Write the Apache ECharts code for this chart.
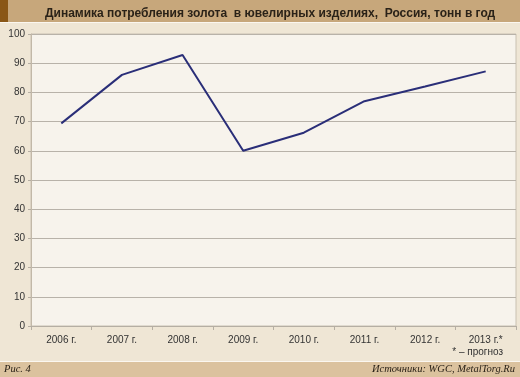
<!DOCTYPE html>
<html>
<head>
<meta charset="utf-8">
<script src="https://cdn.jsdelivr.net/npm/echarts@6/dist/echarts.min.js"></script>
<style>
html, body { margin:0; padding:0; background:#efe6d5; }
#main { width:520px; height:377px; }
</style>
</head>
<body>
<div id="main"></div>
<script type="text/javascript">
// данные
var years = ['2006 г.', '2007 г.', '2008 г.', '2009 г.', '2010 г.', '2011 г.', '2012 г.', '2013 г.*'];
var tonnes = [69.4, 86, 92.8, 60, 66.2, 77, 82, 87.2];
var yTicks = { min: 0, max: 100, step: 10 };

var myChart = echarts.init(document.getElementById('main'));
var option = {
    backgroundColor: '#efe6d5',
    animation: false,
    title: {
        text: 'Динамика потребления золота  в ювелирных изделиях,  Россия, тонн в год',
        left: 40,
        top: 3,
        textStyle: { fontFamily: 'Liberation Sans', fontSize: 12, fontWeight: 'bold', color: '#2a2218' }
    },
    graphic: [
        { type: 'rect', left: 0, top: 0, z: -1, shape: { width: 520, height: 22 }, style: { fill: '#c7a77b' } },
        { type: 'rect', left: 0, top: 0, z: -1, shape: { width: 8, height: 22 }, style: { fill: '#8a5716' } },
        { type: 'rect', left: 0, top: 22, z: -1, shape: { width: 520, height: 1 }, style: { fill: '#fbf7f0' } },
        { type: 'rect', left: 0, top: 361, z: -1, shape: { width: 520, height: 1 }, style: { fill: '#fbf7f0' } },
        { type: 'rect', left: 0, top: 362, z: -1, shape: { width: 520, height: 15 }, style: { fill: '#dbc29e' } },
        { type: 'text', left: 4, top: 364, style: { text: 'Рис. 4', font: 'italic 10.5px "Liberation Serif"', fill: '#2a2218' } },
        { type: 'text', right: 5, top: 364, style: { text: 'Источники: WGC, MetalTorg.Ru', font: 'italic 10.5px "Liberation Serif"', fill: '#2a2218' } },
        { type: 'text', right: 17, top: 347, style: { text: '* – прогноз', font: '10px "Liberation Sans"', fill: '#333' } }
    ],
    grid: {
        left: 31, right: 4, top: 34, bottom: 51,
        show: true,
        backgroundColor: '#f7f3ec',
        borderColor: '#c9c0b2',
        borderWidth: 1
    },
    xAxis: {
        type: 'category',
        data: years,
        boundaryGap: true,
        axisLine: { lineStyle: { color: '#b5aea3' } },
        axisTick: { show: true, length: 4, lineStyle: { color: '#b5aea3' } },
        axisLabel: { margin: 9, fontFamily: 'Liberation Sans', fontSize: 10, color: '#333' }
    },
    yAxis: {
        type: 'value',
        min: yTicks.min,
        max: yTicks.max,
        interval: yTicks.step,
        axisLine: { show: true, lineStyle: { color: '#c2b8a8' } },
        axisTick: { show: true, length: 3, lineStyle: { color: '#b5aea3' } },
        axisLabel: { margin: 6, fontFamily: 'Liberation Sans', fontSize: 10, color: '#333' },
        splitLine: { lineStyle: { color: '#b8b2a9', width: 1 } }
    },
    series: [
        {
            name: 'тонн',
            type: 'line',
            data: tonnes,
            symbol: 'none',
            lineStyle: { color: '#2a2e78', width: 2 }
        }
    ]
};
myChart.setOption(option);
</script>
</body>
</html>
